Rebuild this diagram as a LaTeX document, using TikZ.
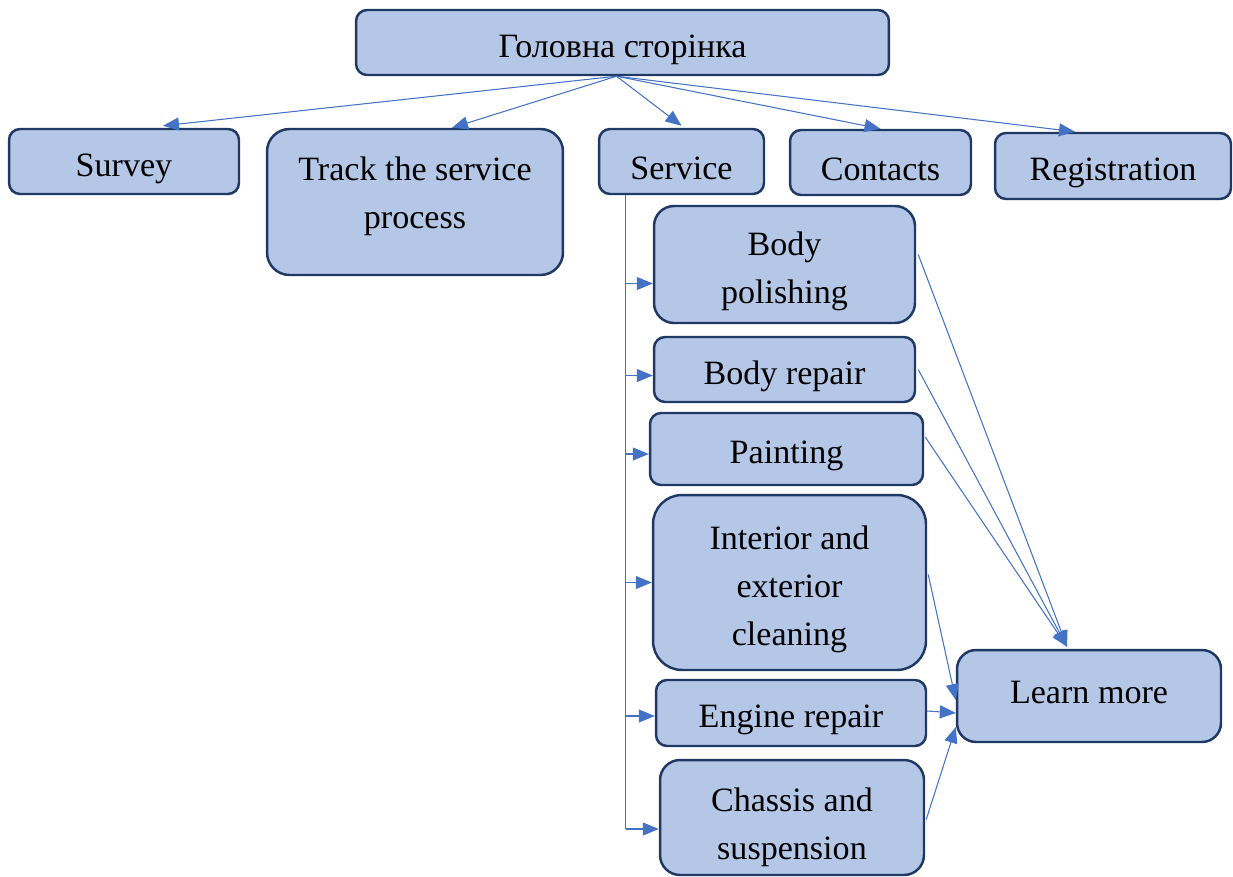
\documentclass[tikz,border=0pt]{standalone}
\usepackage{fontspec}
\setmainfont{Liberation Serif}
\usetikzlibrary{arrows.meta,calc}
\definecolor{boxfill}{HTML}{B4C7E7}
\definecolor{boxline}{HTML}{1F3864}
\definecolor{linkblue}{HTML}{4472C4}
\newcommand\topgap[1]{\rule{0pt}{#1}}
\newcommand\botgap[1]{\rule[-#1]{0pt}{0pt}}
\begin{document}
\begin{tikzpicture}[x=0.02cm,y=-0.02cm,
    box/.style={draw=boxline, fill=boxfill, line width=1.4pt, rounded corners=0.22cm,
        align=center, inner sep=0pt, font=\fontsize{19.4}{27.3}\selectfont},
    lowtext/.style={execute at begin node={\topgap{21pt}}},
    link/.style={draw=linkblue, line width=0.6pt, -{Triangle[length=0.32cm,width=0.26cm]}},
    trunkline/.style={draw=linkblue, line width=0.6pt}]
        \useasboundingbox (0,0) rectangle (1233,876);

        \node[box, lowtext, minimum width=10.66cm, minimum height=1.30cm] (home) at (622.5,42.5) {Головна сторінка};

        \node[box, lowtext, minimum width=4.60cm, minimum height=1.30cm] (survey) at (124,161.5) {Survey};
        \node[box, minimum width=5.92cm, minimum height=2.92cm, rounded corners=0.45cm] (track) at (415,202) {Track the service\\process\botgap{11pt}};
        \node[box, lowtext, minimum width=3.30cm, minimum height=1.30cm] (service) at (681.5,161.5) {Service};
        \node[box, lowtext, minimum width=3.62cm, minimum height=1.30cm] (contacts) at (880.5,162.5) {Contacts};
        \node[box, lowtext, minimum width=4.72cm, minimum height=1.32cm] (registration) at (1113,166) {Registration};

        \node[box, minimum width=5.22cm, minimum height=2.34cm, rounded corners=0.4cm] (polish) at (784.5,264.5) {\topgap{21.5pt}Body\\polishing};
        \node[box, lowtext, minimum width=5.22cm, minimum height=1.30cm] (repair) at (784.5,369.5) {Body repair};
        \node[box, lowtext, minimum width=5.46cm, minimum height=1.44cm] (painting) at (786.5,449) {Painting};
        \node[box, minimum width=5.46cm, minimum height=3.50cm, rounded corners=0.58cm] (interior) at (789.5,582.5) {\topgap{21pt}Interior and\\exterior\\cleaning};
        \node[box, lowtext, minimum width=5.40cm, minimum height=1.32cm] (engine) at (791,713) {Engine repair};
        \node[box, minimum width=5.28cm, minimum height=2.30cm, rounded corners=0.4cm] (chassis) at (792,817.5) {\topgap{24.5pt}Chassis and\\suspension};

        \node[box, minimum width=5.28cm, minimum height=1.84cm, rounded corners=0.38cm] (learn) at (1089,696) {Learn more\botgap{4pt}};

        \coordinate (hub) at ($(home.south)+(-6,0)$);
        \draw[link] (hub) -- ($(survey.north)+(39,-2)$);
        \draw[link] (hub) -- ($(track.north)+(37,0)$);
        \draw[link] (hub) -- ($(service.north)+(0,-2)$);
        \draw[link] (hub) -- (contacts.north);
        \draw[link] (hub) -- ($(registration.north)+(-38,0)$);

        \coordinate (trunk) at ($(service.south west)+(28,0)$);
        \coordinate (trunkend) at ($(chassis.west)+(0,11.5)$);
        \draw[trunkline] (trunk) -- (trunk |- trunkend);
        \foreach \n/\dy in {polish/19,repair/6,painting/5,interior/0,engine/3,chassis/11.5}{
            \coordinate (in) at ($(\n.west)+(0,\dy)$);
            \draw[link] (trunk |- in) -- (in);
        }

        \coordinate (top) at ($(learn.north)+(-22,-2)$);
        \draw[link] ($(polish.east)+(2,-10)$) -- (top);
        \draw[link] ($(repair.east)+(2,0)$) -- (top);
        \draw[link] ($(painting.east)+(1,-12)$) -- (top);
        \draw[link] ($(interior.east)+(1,-8)$) -- ($(learn.west)+(0,4)$);
        \draw[link] ($(engine.east)+(0,-2)$) -- ($(learn.west)+(0,17)$);
        \draw[link] ($(chassis.east)+(1,2)$) -- ($(learn.west)+(0,31)$);

    \end{tikzpicture}
\end{document}
